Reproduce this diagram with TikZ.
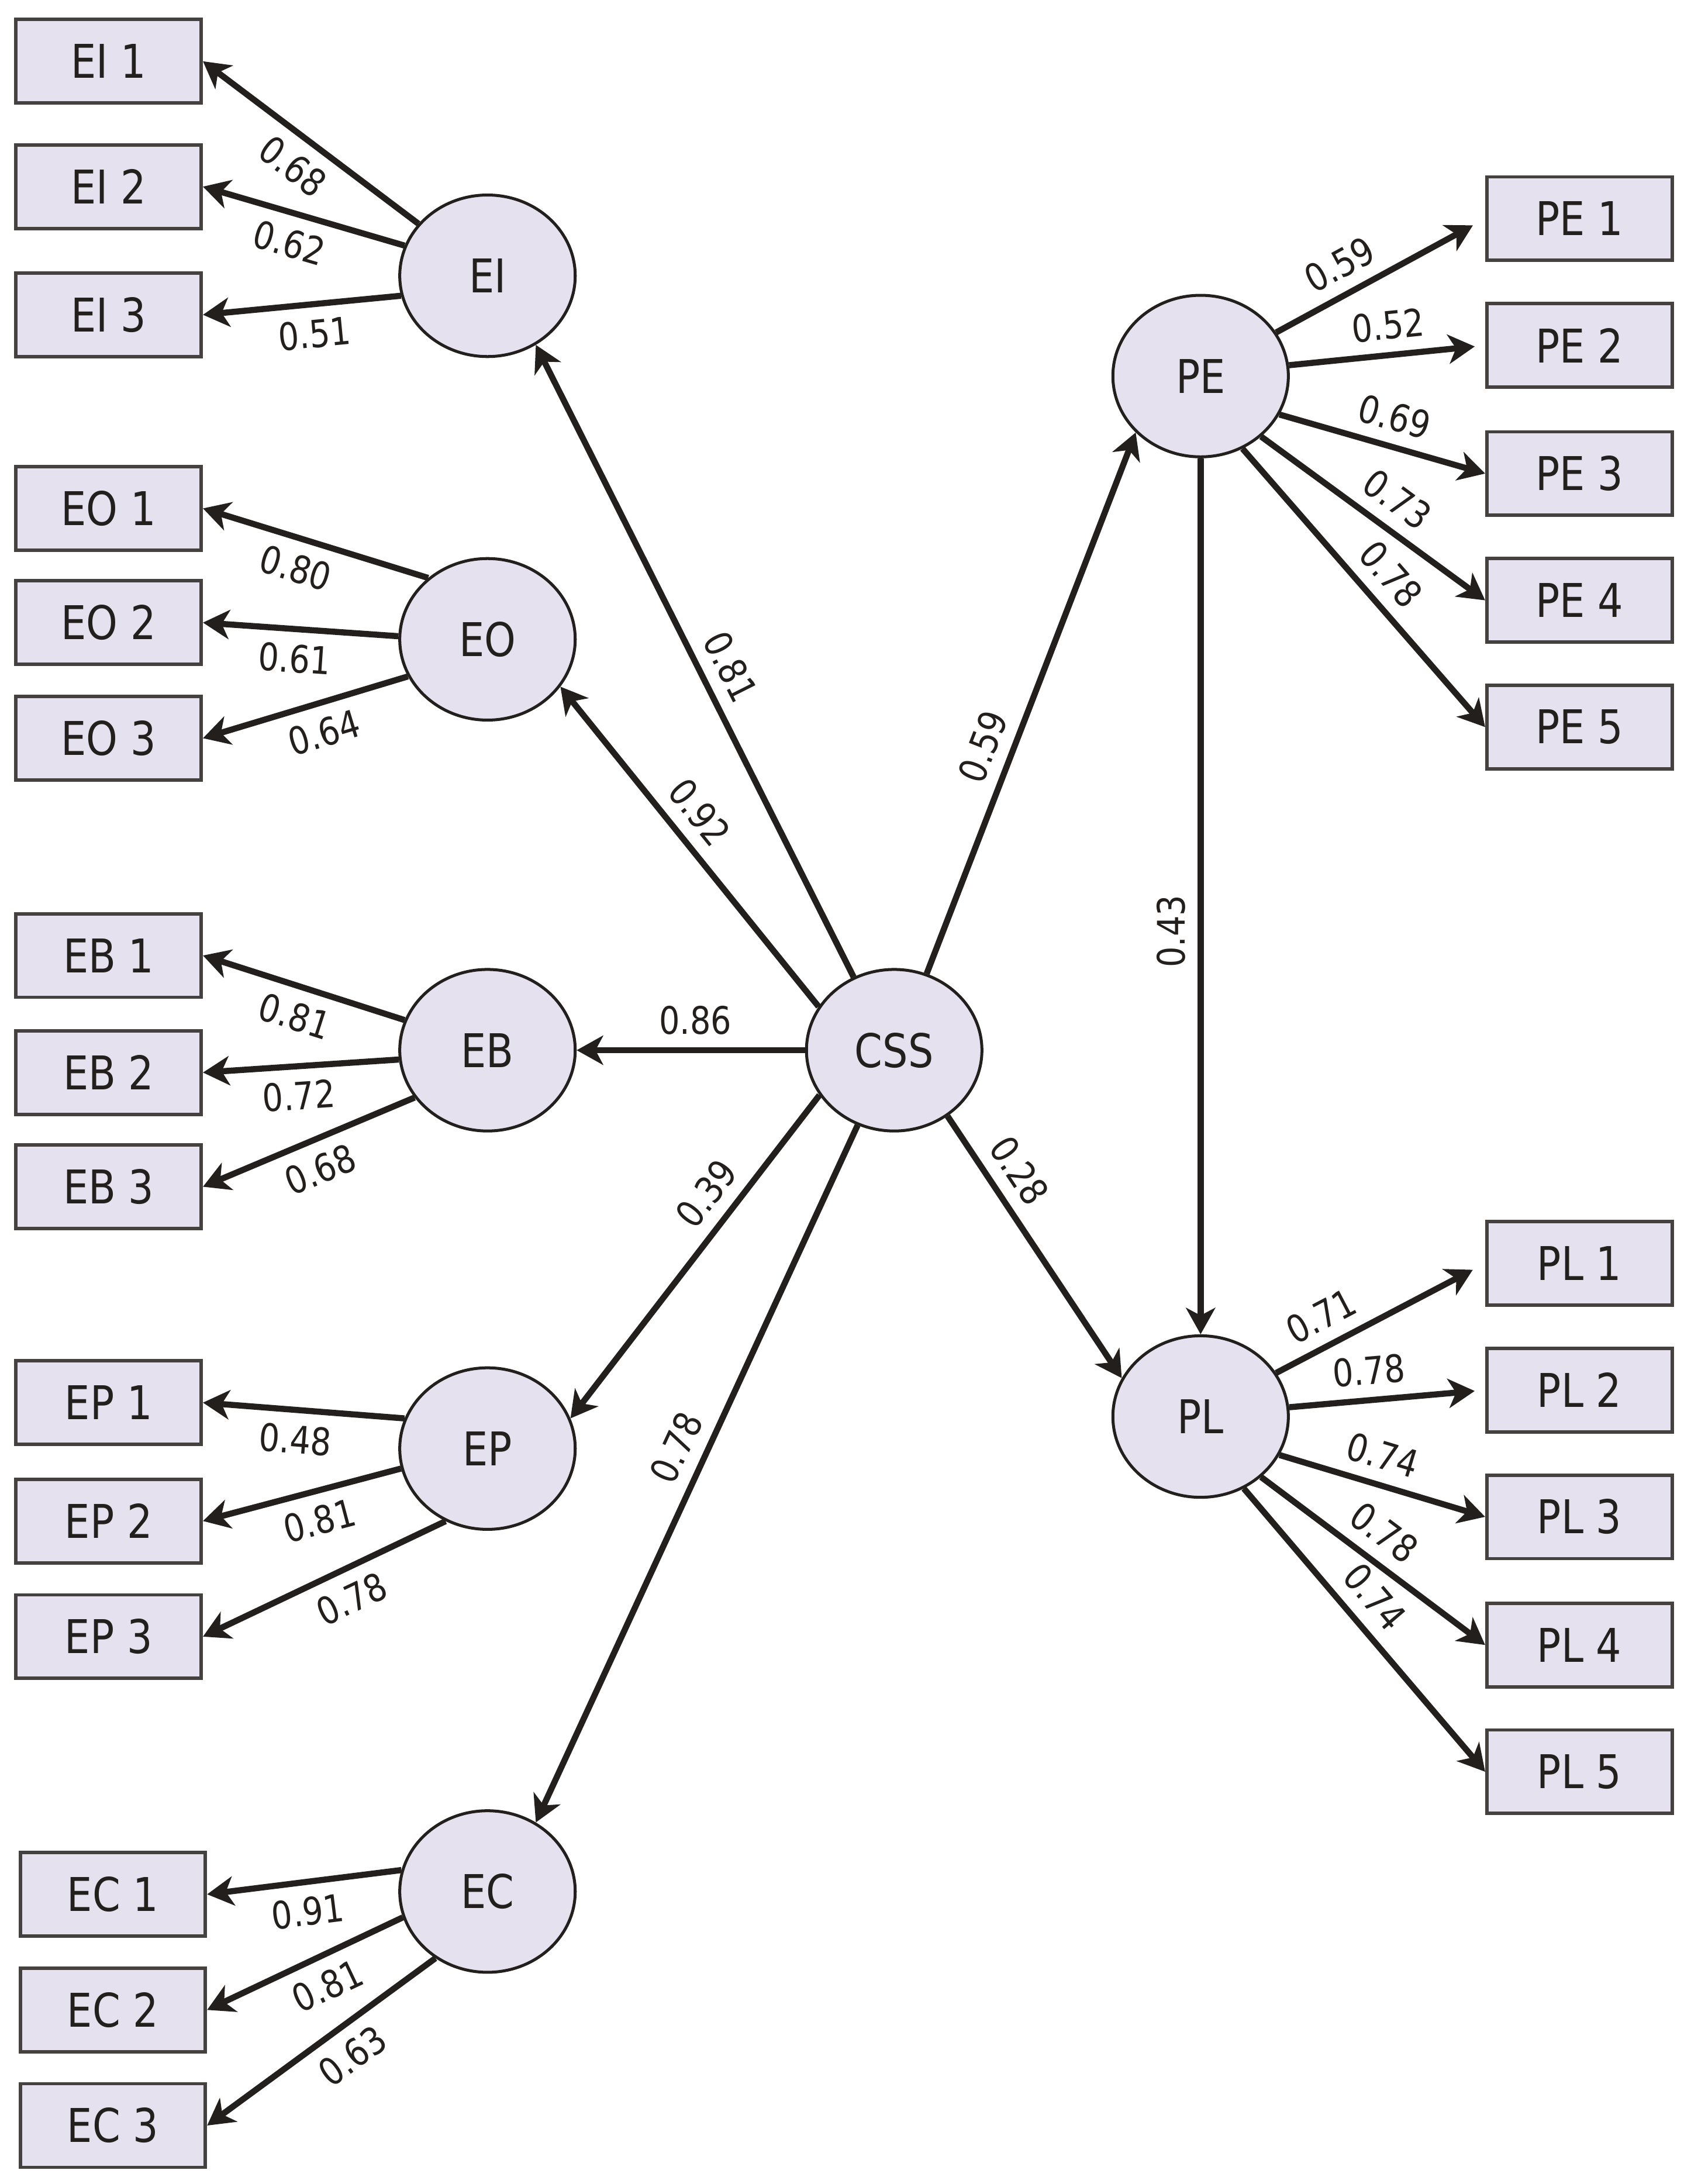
\documentclass[tikz,border=0pt]{standalone}
\usepackage{fontspec}
\setmainfont{DejaVu Sans}[FakeStretch=0.86]
\usepackage{tikz}
\usetikzlibrary{shapes,arrows.meta}
\definecolor{latfill}{HTML}{E6E1EF}
\definecolor{ink}{HTML}{231F1C}
\tikzset{lat/.style={ellipse,draw=ink,fill=latfill,line width=1.2pt,minimum width=2.52cm,minimum height=2.32cm,inner sep=0pt,font=\fontsize{19}{19}\selectfont}}
\tikzset{ind/.style={rectangle,draw=ink!85,fill=latfill,line width=1.4pt,minimum width=2.66cm,minimum height=1.2cm,inner sep=0pt,font=\fontsize{19}{19}\selectfont}}
\tikzset{ld/.style={sloped,font=\fontsize{15.5}{15.5}\selectfont,inner sep=5pt}}

\begin{document}
\begin{tikzpicture}[x=0.02cm,y=-0.02cm,>={Stealth[length=0.38cm,width=0.42cm,inset=0.11cm]},ink,line width=2.5pt]
        \useasboundingbox (0,0) rectangle (1214,1568);
        % latent variables
        \node[lat] (CSS) at (642,754) {CSS};
        \node[lat] (EI) at (350,198) {EI};
        \node[lat] (EO) at (350,459) {EO};
        \node[lat] (EB) at (350,754) {EB};
        \node[lat] (EP) at (350,1040) {EP};
        \node[lat] (EC) at (350,1358) {EC};
        \node[lat] (PE) at (862,270) {PE};
        \node[lat] (PL) at (862,1017) {PL};

        % indicators, left
        \node[ind] (EI1) at (78,44) {EI 1};
        \node[ind] (EI2) at (78,134) {EI 2};
        \node[ind] (EI3) at (78,226) {EI 3};
        \node[ind] (EO1) at (78,365) {EO 1};
        \node[ind] (EO2) at (78,447) {EO 2};
        \node[ind] (EO3) at (78,530) {EO 3};
        \node[ind] (EB1) at (78,686) {EB 1};
        \node[ind] (EB2) at (78,770) {EB 2};
        \node[ind] (EB3) at (78,852) {EB 3};
        \node[ind] (EP1) at (78,1007) {EP 1};
        \node[ind] (EP2) at (78,1092) {EP 2};
        \node[ind] (EP3) at (78,1175) {EP 3};
        \node[ind] (EC1) at (81,1360) {EC 1};
        \node[ind] (EC2) at (81,1443) {EC 2};
        \node[ind] (EC3) at (81,1526) {EC 3};

        % indicators, right
        \node[ind] (PE1) at (1134,157) {PE 1};
        \node[ind] (PE2) at (1134,248) {PE 2};
        \node[ind] (PE3) at (1134,340) {PE 3};
        \node[ind] (PE4) at (1134,431) {PE 4};
        \node[ind] (PE5) at (1134,522) {PE 5};
        \node[ind] (PL1) at (1134,907) {PL 1};
        \node[ind] (PL2) at (1134,998) {PL 2};
        \node[ind] (PL3) at (1134,1089) {PL 3};
        \node[ind] (PL4) at (1134,1181) {PL 4};
        \node[ind] (PL5) at (1134,1272) {PL 5};

        % structural paths
        \draw [->] (CSS.119) to []node[ld,above,pos=0.47]{0.81} (EI.305);
        \draw [->] (CSS.150) to []node[ld,above,pos=0.55]{0.92} (EO.327);
        \draw [->] (CSS.west) to []node[ld,above,pos=0.48]{0.86} (EB.east);
        \draw [->] (CSS.211) to []node[ld,above,pos=0.36]{0.39} (EP.20);
        \draw [->] (CSS.244) to []node[ld,above,pos=0.48]{0.78} (EC.55);
        \draw [->] (CSS.67) to []node[ld,above,pos=0.4]{0.59} (PE.221);
        \draw [->] (CSS.309) to []node[ld,above,pos=0.27]{0.28} (PL.154);
        \draw [<-] (PL.north) to []node[ld,above,pos=0.46]{0.43} (PE.south);

        % loadings, left
        \draw [->] (EI.143) to []node[ld,below,pos=0.5]{0.68} (EI1.east);
        \draw [->] (EI.160) to []node[ld,below,pos=0.53]{0.62} (EI2.east);
        \draw [->] (EI.193) to []node[ld,below,pos=0.45]{0.51} (EI3.east);
        \draw [->] (EO.134) to []node[ld,below,pos=0.55]{0.80} (EO1.east);
        \draw [->] (EO.178) to []node[ld,below,pos=0.52]{0.61} (EO2.east);
        \draw [->] (EO.205) to []node[ld,below,pos=0.45]{0.64} (EO3.east);
        \draw [->] (EB.160) to []node[ld,below,pos=0.5]{0.81} (EB1.east);
        \draw [->] (EB.186) to []node[ld,below,pos=0.52]{0.72} (EB2.east);
        \draw [->] (EB.213) to []node[ld,below,pos=0.5]{0.68} (EB3.east);
        \draw [->] (EP.160) to []node[ld,below,pos=0.53]{0.48} (EP1.east);
        \draw [->] (EP.193) to []node[ld,below,pos=0.45]{0.81} (EP2.east);
        \draw [->] (EP.240) to []node[ld,below,pos=0.44]{0.78} (EP3.east);
        \draw [->] (EC.166) to []node[ld,below,pos=0.5]{0.91} (EC1.east);
        \draw [->] (EC.197) to []node[ld,below,pos=0.45]{0.81} (EC2.east);
        \draw [->] (EC.232) to []node[ld,below,pos=0.44]{0.63} (EC3.east);

        % loadings, right
        \draw [->,shorten >=0.2cm] (PE.30) to []node[ld,above,pos=0.37]{0.59} (PE1.west);
        \draw [->,shorten >=0.15cm] (PE.7) to []node[ld,above,pos=0.52]{0.52} (PE2.west);
        \draw [->] (PE.-26) to []node[ld,above,pos=0.52]{0.69} (PE3.west);
        \draw [->] (PE.-45) to []node[ld,above,pos=0.53]{0.73} (PE4.west);
        \draw [->] (PE.-60) to []node[ld,above,pos=0.52]{0.78} (PE5.west);
        \draw [->,shorten >=0.2cm] (PL.30) to []node[ld,above,pos=0.28]{0.71} (PL1.west);
        \draw [->,shorten >=0.15cm] (PL.6) to []node[ld,above,pos=0.42]{0.78} (PL2.west);
        \draw [->] (PL.-26) to []node[ld,above,pos=0.46]{0.74} (PL3.west);
        \draw [->] (PL.-45) to []node[ld,above,pos=0.47]{0.78} (PL4.west);
        \draw [->] (PL.-59) to []node[ld,above,pos=0.45]{0.74} (PL5.west);
    \end{tikzpicture}
\end{document}
